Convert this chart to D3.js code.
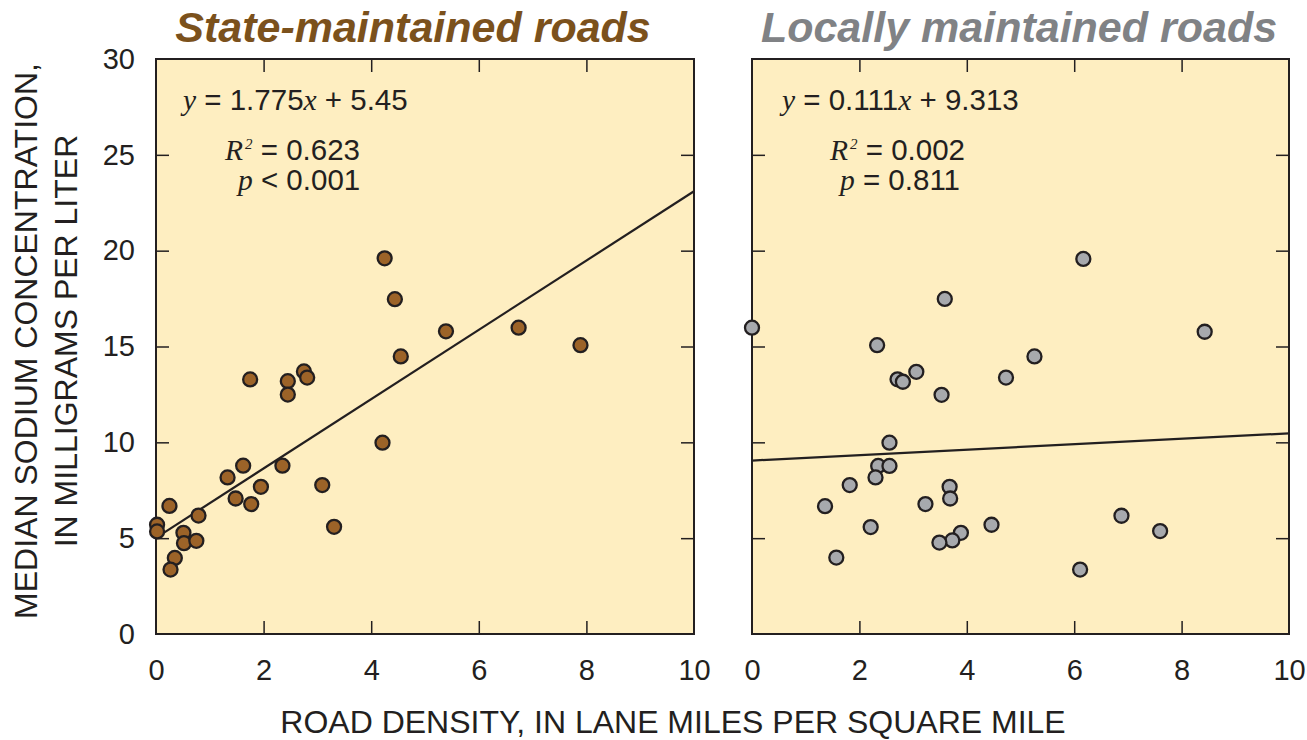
<!DOCTYPE html>
<html>
<head>
<meta charset="utf-8">
<script src="https://cdn.jsdelivr.net/npm/d3@7"></script>
<style>
  body { margin: 0; background: #ffffff; }
  svg { display: block; }
</style>
</head>
<body>
<div id="chart"></div>
<script>

///////////////////////////////////////////////////////////////////////////
////////////////////////////// The data ///////////////////////////////////
///////////////////////////////////////////////////////////////////////////

//Road density (lane miles per sq mile) and median sodium (mg/L), state roads
var stateDensity = [4.25, 4.44, 4.55, 1.75, 2.45, 2.45, 2.75, 2.81, 4.21, 1.62,
	1.33, 2.35, 1.95, 1.48, 1.77, 3.09, 3.31, 0.25, 0.79, 0.02,
	0.02, 0.51, 0.52, 0.75, 0.35, 0.27, 5.39, 6.74, 7.89];
var stateSodium = [19.6, 17.47, 14.48, 13.28, 13.19, 12.49, 13.7, 13.38, 9.98, 8.78,
	8.17, 8.78, 7.68, 7.07, 6.78, 7.77, 5.59, 6.68, 6.18, 5.70,
	5.35, 5.28, 4.74, 4.86, 3.97, 3.36, 15.79, 15.98, 15.07];

//Same sites, locally maintained roads
var localDensity = [3.59, 0.0, 2.33, 2.71, 2.81, 3.06, 3.53, 4.73, 5.26, 2.56,
	2.35, 2.56, 2.30, 1.82, 1.36, 3.68, 3.69, 3.23, 2.21, 4.46,
	3.89, 3.73, 3.49, 1.57, 6.17, 8.43, 6.88, 7.60, 6.11];
var localSodium = [17.48, 15.98, 15.07, 13.29, 13.16, 13.68, 12.48, 13.38, 14.48, 9.98,
	8.77, 8.77, 8.17, 7.77, 6.67, 7.68, 7.07, 6.78, 5.58, 5.70,
	5.28, 4.88, 4.77, 3.99, 19.57, 15.77, 6.17, 5.37, 3.36];

//Fitted lines as drawn (end points)
var stateFit = [[0.1, 5.2], [10, 23.1]];
var localFit = [[0, 9.05], [10, 10.47]];

//Panel titles and regression text
var panelTitles = ["State-maintained roads", "Locally maintained roads"];
var fitSlope = ["1.775", "0.111"];
var fitIntercept = ["5.45", "9.313"];
var fitR2 = ["0.623", "0.002"];
var fitP = ["< 0.001", "= 0.811"];

//Axis ticks
var xTicks = [0, 2, 4, 6, 8, 10];
var yTicks = [0, 5, 10, 15, 20, 25, 30];

///////////////////////////////////////////////////////////////////////////
////////////////////////////// Set up SVG /////////////////////////////////
///////////////////////////////////////////////////////////////////////////

var width = 1307,
	height = 740;

var top_ = 59,
	bottom = 634;

//text offsets (px from panel left) for the regression lines
var panels = [
	{ left: 156, right: 694, x: stateDensity, y: stateSodium, fit: stateFit,
	  fill: "#9c6328", titleColor: "#7b511c", titleX: 413, yLabels: true,
	  textX: [27, 69, 82] },
	{ left: 752, right: 1289, x: localDensity, y: localSodium, fit: localFit,
	  fill: "#a7a9ad", titleColor: "#808285", titleX: 1019, yLabels: false,
	  textX: [30, 78, 88] }
];

var sans = "'Liberation Sans', Arial, Helvetica, sans-serif",
	serif = "'Liberation Serif', 'Times New Roman', serif",
	ink = "#231f20";

var svg = d3.select("#chart").append("svg")
	.attr("width", width)
	.attr("height", height);

var y = d3.scaleLinear()
	.domain([0, 30])
	.range([bottom, top_]);

///////////////////////////////////////////////////////////////////////////
////////////////////////////// Draw panels ////////////////////////////////
///////////////////////////////////////////////////////////////////////////

panels.forEach(function (p, k) {

	var x = d3.scaleLinear()
		.domain([0, 10])
		.range([p.left, p.right]);

	var g = svg.append("g");

	//background
	g.append("rect")
		.attr("x", p.left)
		.attr("y", top_)
		.attr("width", p.right - p.left)
		.attr("height", bottom - top_)
		.style("fill", "#feeec1");

	//axes, ticks pointing inward on all four sides
	var axes = [
		g.append("g").attr("transform", "translate(0," + bottom + ")")
			.call(d3.axisBottom(x).tickValues(xTicks).tickSize(-13).tickPadding(25)),
		g.append("g").attr("transform", "translate(0," + top_ + ")")
			.call(d3.axisTop(x).tickValues(xTicks.slice(1, -1)).tickSize(-13).tickFormat("")),
		g.append("g").attr("transform", "translate(" + p.left + ",0)")
			.call(d3.axisLeft(y).tickValues(yTicks.slice(1, -1)).tickSize(-13).tickFormat("")),
		g.append("g").attr("transform", "translate(" + p.right + ",0)")
			.call(d3.axisRight(y).tickValues(yTicks.slice(1, -1)).tickSize(-13).tickFormat(""))
	];
	axes.forEach(function (a) {
		a.select(".domain").remove();
		a.selectAll("line").attr("stroke", ink).attr("stroke-width", 1.5);
	});
	axes[0].selectAll("line").filter(function (d) { return d === 0 || d === 10; }).remove();
	axes[0].selectAll("text")
		.style("font-family", sans)
		.style("font-size", "29px")
		.attr("fill", ink);

	if (p.yLabels) {
		var yl = g.append("g").attr("transform", "translate(" + p.left + ",0)")
			.call(d3.axisLeft(y).tickValues(yTicks).tickSize(0).tickPadding(21));
		yl.select(".domain").remove();
		yl.selectAll("text")
			.style("font-family", sans)
			.style("font-size", "29px")
			.attr("fill", ink);
	}

	//frame
	g.append("rect")
		.attr("x", p.left)
		.attr("y", top_)
		.attr("width", p.right - p.left)
		.attr("height", bottom - top_)
		.style("fill", "none")
		.style("stroke", ink)
		.style("stroke-width", 2);

	//fitted line
	g.append("line")
		.attr("x1", x(p.fit[0][0]))
		.attr("y1", y(p.fit[0][1]))
		.attr("x2", x(p.fit[1][0]))
		.attr("y2", y(p.fit[1][1]))
		.style("stroke", ink)
		.style("stroke-width", 2.2);

	//points
	g.append("g")
		.selectAll("circle")
		.data(d3.range(p.x.length))
		.enter().append("circle")
		.attr("cx", function (i) { return x(p.x[i]); })
		.attr("cy", function (i) { return y(p.y[i]); })
		.attr("r", 7)
		.style("fill", p.fill)
		.style("stroke", ink)
		.style("stroke-width", 2.3);

	//title
	g.append("text")
		.attr("x", p.titleX)
		.attr("y", 42)
		.attr("text-anchor", "middle")
		.style("font-family", sans)
		.style("font-weight", "bold")
		.style("font-style", "italic")
		.style("font-size", "43px")
		.style("fill", p.titleColor)
		.text(panelTitles[k]);

	//regression text
	var ann = g.append("g")
		.style("font-family", sans)
		.style("font-size", "29.5px")
		.style("fill", ink);

	var t1 = ann.append("text").attr("x", p.left + p.textX[0]).attr("y", 110);
	t1.append("tspan").style("font-family", serif).style("font-style", "italic").text("y");
	t1.append("tspan").text(" = " + fitSlope[k]);
	t1.append("tspan").style("font-family", serif).style("font-style", "italic").text("x");
	t1.append("tspan").text(" + " + fitIntercept[k]);

	var t2 = ann.append("text").attr("x", p.left + p.textX[1]).attr("y", 160);
	t2.append("tspan").style("font-family", serif).style("font-style", "italic").text("R");
	t2.append("tspan").attr("dx", 2).attr("dy", -11).style("font-family", serif).style("font-style", "italic")
		.style("font-size", "15px").text("2");
	t2.append("tspan").attr("dy", 11).text(" = " + fitR2[k]);

	var t3 = ann.append("text").attr("x", p.left + p.textX[2]).attr("y", 190);
	t3.append("tspan").style("font-family", serif).style("font-style", "italic").text("p");
	t3.append("tspan").text(" " + fitP[k]);
});

///////////////////////////////////////////////////////////////////////////
////////////////////////////// Axis titles ////////////////////////////////
///////////////////////////////////////////////////////////////////////////

svg.append("text")
	.attr("x", 673)
	.attr("y", 733)
	.attr("text-anchor", "middle")
	.style("font-family", sans)
	.style("font-size", "32px")
	.style("fill", ink)
	.text("ROAD DENSITY, IN LANE MILES PER SQUARE MILE");

var yTitle = svg.append("text")
	.attr("transform", "translate(0,341) rotate(-90)")
	.attr("text-anchor", "middle")
	.style("font-family", sans)
	.style("font-size", "32px")
	.style("fill", ink);
yTitle.append("tspan").attr("x", 0).attr("y", 37).text("MEDIAN SODIUM CONCENTRATION,");
yTitle.append("tspan").attr("x", 0).attr("y", 77).text("IN MILLIGRAMS PER LITER");

</script>
</body>
</html>
